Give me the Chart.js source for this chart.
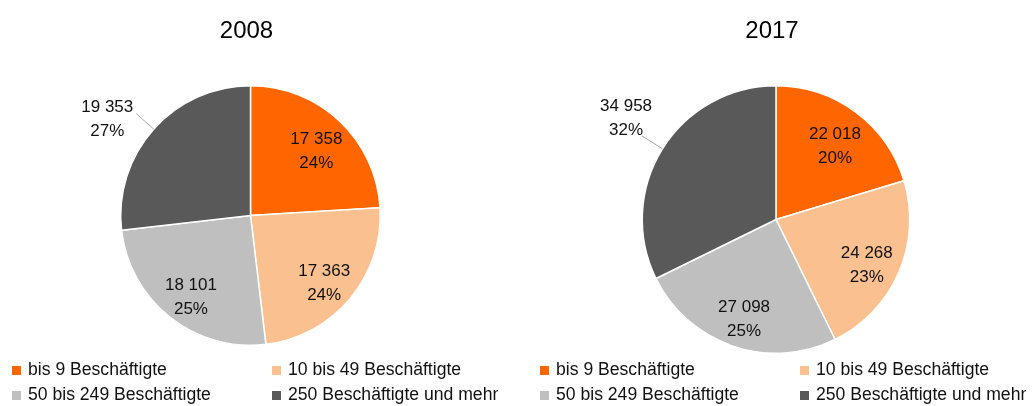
<!DOCTYPE html>
<html>
<head>
<meta charset="utf-8">
<script src="https://cdn.jsdelivr.net/npm/chart.js@4.4.1/dist/chart.umd.min.js"></script>
<style>
  body { margin: 0; width: 1035px; height: 406px; background: #fff; position: relative; overflow: hidden;
         font-family: "Liberation Sans", Arial, sans-serif; color: #111; }
  .box { position: absolute; top: 0; width: 517px; height: 406px; }
  .legend { position: absolute; top: 357px; }
  .item { position: absolute; height: 25px; line-height: 25px; font-size: 17.6px; white-space: nowrap; }
  .item span.sq { display: inline-block; width: 9px; height: 9px; margin-right: 7px; vertical-align: 0px; }
</style>
</head>
<body>
<div class="box" id="box1" style="left:0"><canvas id="pie2008" width="517" height="406"></canvas></div>
<div class="box" id="box2" style="left:518px"><canvas id="pie2017" width="517" height="406"></canvas></div>

<script>
const categories = ['bis 9 Beschäftigte', '10 bis 49 Beschäftigte', '50 bis 249 Beschäftigte', '250 Beschäftigte und mehr'];
const years = ['2008', '2017'];
const values2008 = [17358, 17363, 18101, 19353];
const values2017 = [22018, 24268, 27098, 34958];
const percent2008 = ['24%', '24%', '25%', '27%'];
const percent2017 = ['20%', '23%', '25%', '32%'];
const colors = ['#FF6600', '#FAC090', '#BFBFBF', '#595959'];

const fmt = (v) => String(v).replace(/\B(?=(\d{3})+(?!\d))/g, ' ');

// value + percent on each slice, last slice gets a leader line outside
const sliceLabels = {
  id: 'sliceLabels',
  afterDatasetsDraw(chart, args, opts) {
    const ctx = chart.ctx;
    const meta = chart.getDatasetMeta(0);
    const data = chart.data.datasets[0].data;
    ctx.save();
    ctx.font = '17px "Liberation Sans", Arial, sans-serif';
    ctx.fillStyle = '#111';
    ctx.textAlign = 'center';
    ctx.textBaseline = 'middle';
    meta.data.forEach((arc, i) => {
      const { x, y, startAngle, endAngle, outerRadius } =
        arc.getProps(['x', 'y', 'startAngle', 'endAngle', 'outerRadius'], true);
      const mid = (startAngle + endAngle) / 2;
      const cos = Math.cos(mid), sin = Math.sin(mid);
      let lx, ly;
      if (i === opts.outside) {
        const sx = x + cos * outerRadius * 1.18, sy = y + sin * outerRadius * 1.18;
        ctx.strokeStyle = '#A6A6A6';
        ctx.lineWidth = 1;
        ctx.beginPath();
        ctx.moveTo(sx, sy);
        ctx.lineTo(x + cos * outerRadius, y + sin * outerRadius);
        ctx.stroke();
        lx = sx + opts.shift[0];
        ly = sy + opts.shift[1];
      } else {
        lx = x + cos * outerRadius * 0.74;
        ly = y + sin * outerRadius * 0.74 + 6;
      }
      ctx.fillText(fmt(data[i]), lx, ly - 12);
      ctx.fillText(opts.percents[i], lx, ly + 12);
    });
    ctx.restore();
  }
};

const yearTitle = {
  id: 'yearTitle',
  afterDraw(chart, args, opts) {
    const ctx = chart.ctx;
    const a = chart.chartArea;
    ctx.save();
    ctx.font = '24px "Liberation Sans", Arial, sans-serif';
    ctx.fillStyle = '#000';
    ctx.textAlign = 'center';
    ctx.textBaseline = 'middle';
    ctx.fillText(opts.text, (a.left + a.right) / 2 - 4, 31);
    ctx.restore();
  }
};

function makePie(canvasId, year, values, percents, padding, shift) {
  return new Chart(document.getElementById(canvasId), {
    type: 'pie',
    data: {
      labels: categories,
      datasets: [{
        data: values,
        backgroundColor: colors,
        borderColor: '#fff',
        borderWidth: 1.5,
        hoverOffset: 0
      }]
    },
    options: {
      responsive: false,
      animation: false,
      layout: { padding: padding },
      plugins: {
        legend: { display: false },
        tooltip: { enabled: false },
        sliceLabels: { percents: percents, outside: 3, shift: shift },
        yearTitle: { text: year }
      }
    },
    plugins: [sliceLabels, yearTitle]
  });
}

makePie('pie2008', years[0], values2008, percent2008, { left: 120, right: 136, top: 85, bottom: 60 }, [-29, 6]);
makePie('pie2017', years[1], values2017, percent2017, { left: 123, right: 124, top: 85, bottom: 52 }, [-16, -18]);

// html legend, two columns
function makeLegend(boxId, left) {
  const leg = document.createElement('div');
  leg.className = 'legend';
  leg.style.left = left + 'px';
  categories.forEach((c, i) => {
    const it = document.createElement('div');
    it.className = 'item';
    it.style.left = (i % 2) * 260 + 'px';
    it.style.top = Math.floor(i / 2) * 25 + 'px';
    it.innerHTML = '<span class="sq" style="background:' + colors[i] + '"></span>' + c;
    leg.appendChild(it);
  });
  document.getElementById(boxId).appendChild(leg);
}
makeLegend('box1', 12);
makeLegend('box2', 22);
</script>
</body>
</html>
